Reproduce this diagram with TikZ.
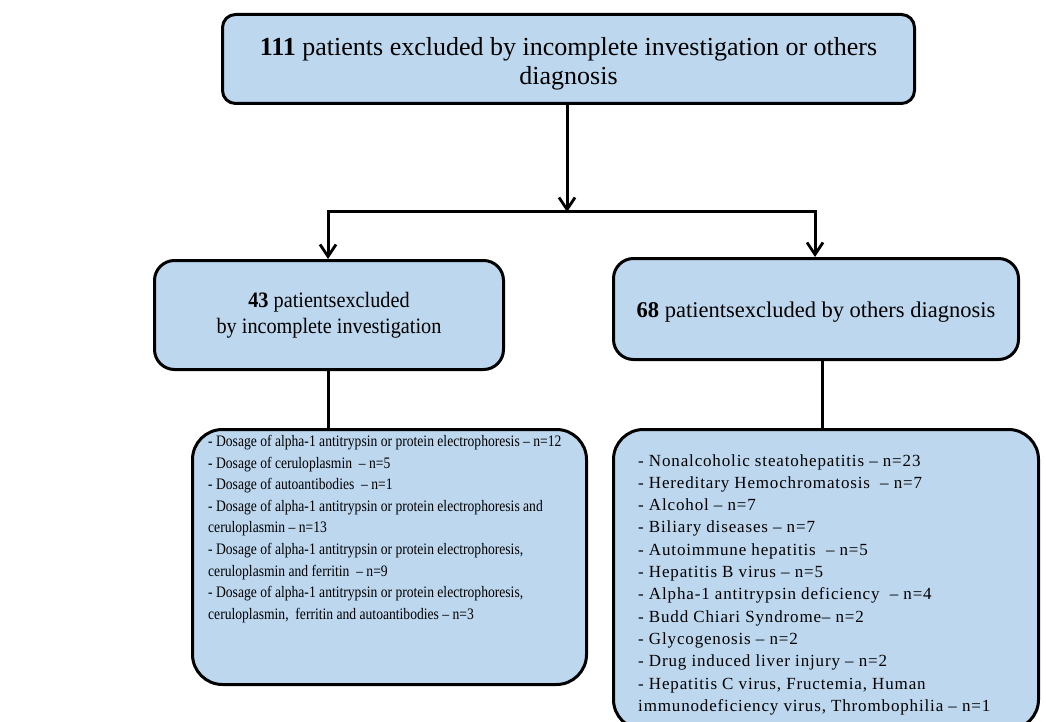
\documentclass[tikz,border=0pt]{standalone}
\usepackage{fontspec}
\setmainfont{Liberation Serif}
\newfontfamily\condfont[FakeStretch=0.85]{Liberation Serif}
\newfontfamily\midfont[FakeStretch=0.92]{Liberation Serif}
\newfontfamily\widefont[LetterSpace=5]{Liberation Serif}
\usetikzlibrary{arrows.meta}
\definecolor{boxblue}{RGB}{189,215,238}
\tikzset{
  box/.style={draw=black, fill=boxblue, line width=3pt, align=center, inner sep=0pt},
  topbox/.style={box, rounded corners=13pt},
  midbox/.style={box, rounded corners=20pt},
  listbox/.style={box, rounded corners=30pt},
  listtext/.style={align=left, inner sep=0pt, anchor=north west},
  conn/.style={line width=3pt},
  arr/.style={conn, -{Straight Barb[length=12pt,width=16pt,line width=2.8pt]}},
}
\begin{document}
\begin{tikzpicture}[x=1pt,y=-1pt]
\useasboundingbox (0,0) rectangle (1046,722);
% top box
\node[topbox, minimum width=692pt, minimum height=89pt, anchor=north west] (top) at (221,13) {};
\node[align=center, inner sep=0pt, font={\fontsize{26}{29}\selectfont}] (toptext) at ([yshift=-5pt]top.center)
  {\textbf{111} patients excluded by incomplete investigation or others\\ diagnosis};
% mid boxes
\node[midbox, minimum width=349pt, minimum height=109pt, anchor=north west, font={\midfont\fontsize{22}{26}\selectfont}] (lm) at (153,259)
  {\textbf{43} patientsexcluded\\ by incomplete investigation};
\node[midbox, minimum width=405pt, minimum height=101pt, anchor=north west] (rm) at (612,257) {};
\node[inner sep=0pt, font={\fontsize{22.5}{26}\selectfont}] (rmtext) at ([yshift=-3pt]rm.center)
  {\textbf{68} patientsexcluded by others diagnosis};
% bottom boxes
\node[listbox, minimum width=394pt, minimum height=255pt, anchor=north west] (lb) at (191,428) {};
\node[listbox, minimum width=425pt, minimum height=300pt, anchor=north west] (rb) at (612,428) {};
\node[listtext, font={\condfont\fontsize{16}{21.6}\selectfont}] (lt) at (208,435) {%
- Dosage of alpha-1 antitrypsin or protein electrophoresis – n=12\\
- Dosage of ceruloplasmin \ – n=5\\
- Dosage of autoantibodies \ – n=1\\
- Dosage of alpha-1 antitrypsin or protein electrophoresis and\\
ceruloplasmin – n=13\\
- Dosage of alpha-1 antitrypsin or protein electrophoresis,\\
ceruloplasmin and ferritin \ – n=9\\
- Dosage of alpha-1 antitrypsin or protein electrophoresis,\\
ceruloplasmin, \ ferritin and autoantibodies – n=3};
\node[listtext, font={\widefont\fontsize{17}{22.3}\selectfont}] (rt) at (638,454) {%
- Nonalcoholic steatohepatitis – n=23\\
- Hereditary Hemochromatosis \ – n=7\\
- Alcohol – n=7\\
- Biliary diseases – n=7\\
- Autoimmune hepatitis \ – n=5\\
- Hepatitis B virus – n=5\\
- Alpha-1 antitrypsin deficiency \ – n=4\\
- Budd Chiari Syndrome– n=2\\
- Glycogenosis – n=2\\
- Drug induced liver injury – n=2\\
- Hepatitis C virus, Fructemia, Human\\
immunodeficiency virus, Thrombophilia – n=1};
% connectors
\coordinate (j) at (567,211);
\coordinate (jl) at (328,211);
\coordinate (jr) at (815,211);
\draw[arr] (top.south -| j) -- ([yshift=-1pt]j);
\draw[conn, line cap=rect] (jl) -- (jr);
\draw[arr] (jl) -- (jl |- lm.north);
\draw[arr] (jr) -- (jr |- rm.north);
\draw[conn] (lm.south -| jl) -- (lb.north -| jl);
\coordinate (rr) at (822,0);
\draw[conn] (rm.south -| rr) -- (rb.north -| rr);
\end{tikzpicture}
\end{document}
